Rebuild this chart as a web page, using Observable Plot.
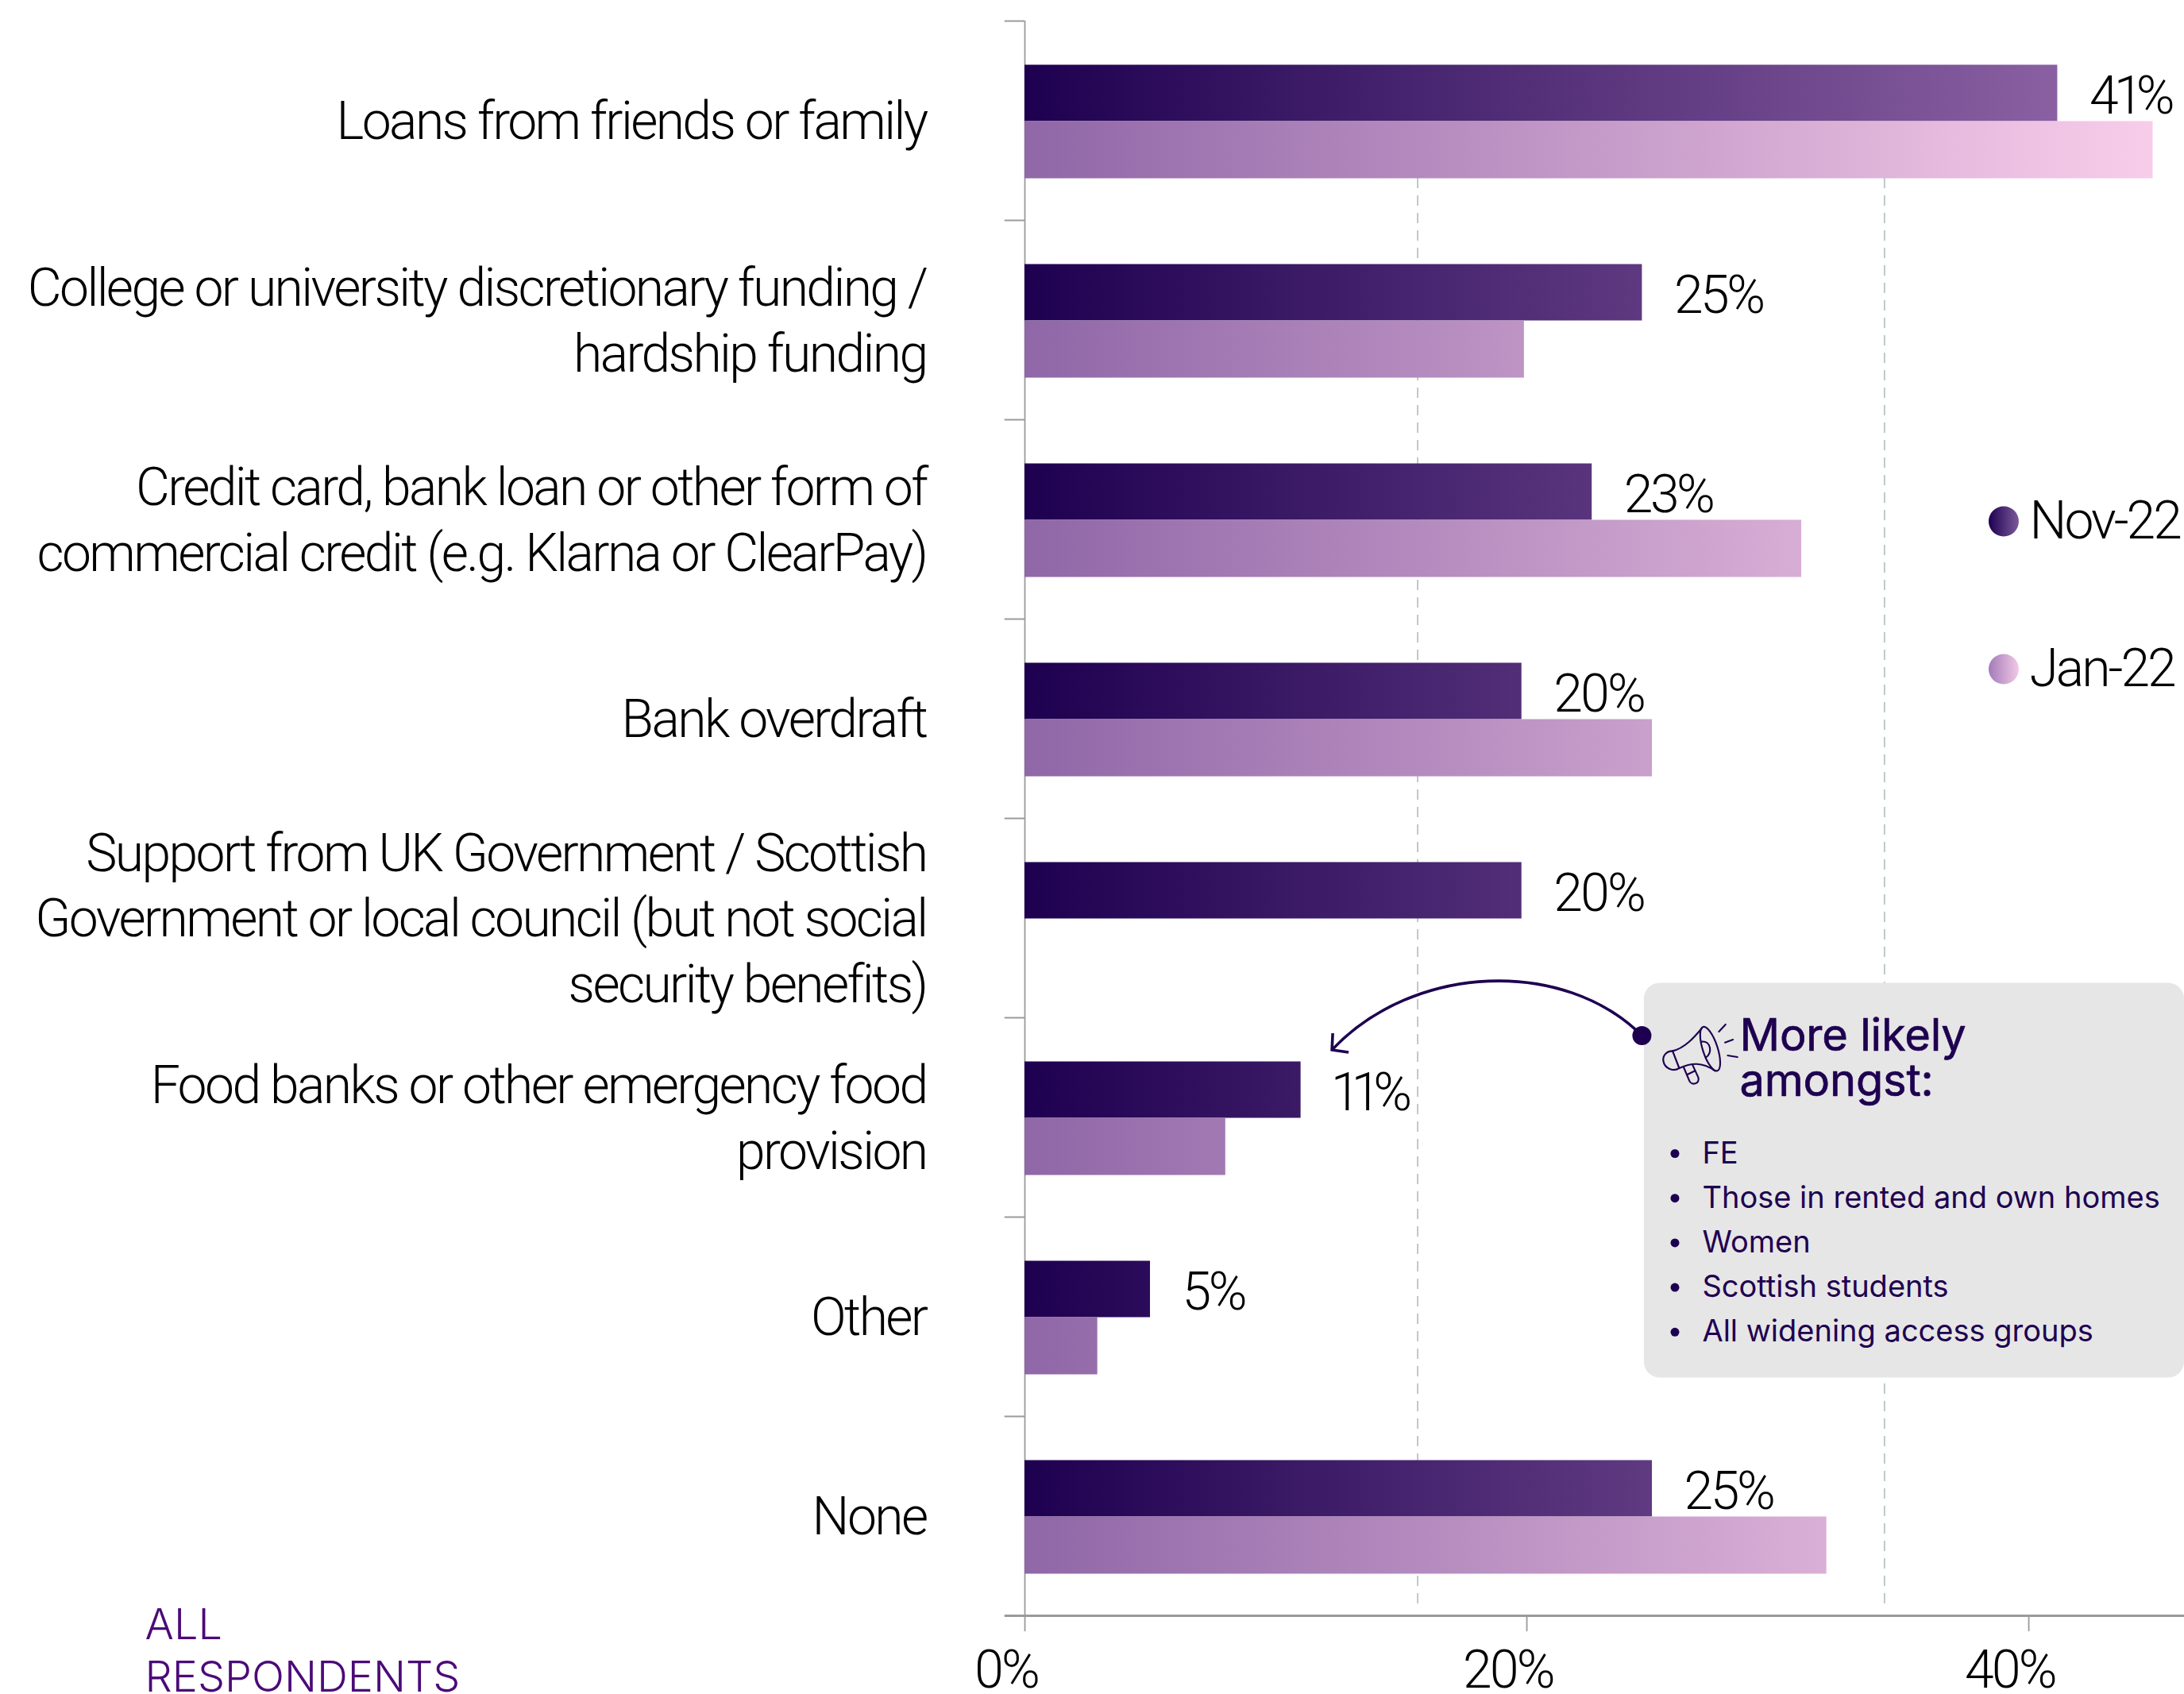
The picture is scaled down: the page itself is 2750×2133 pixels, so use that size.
<!DOCTYPE html>
<html><head><meta charset="utf-8">
<script src="https://cdn.jsdelivr.net/npm/d3@7"></script>
<script src="https://cdn.jsdelivr.net/npm/@observablehq/plot@0.6"></script>
<style>html,body{margin:0;padding:0;background:#fff}svg{display:block}
.tight text{letter-spacing:-3.4px;font-variant-numeric:proportional-nums}
.cats text{letter-spacing:-2.6px}
.legend text{letter-spacing:-3px}
.head text{letter-spacing:-.2px}
</style>
</head><body><div id="chart"></div>
<script>
const categories = ["Loans from friends or family","College or university discretionary funding /\nhardship funding","Credit card, bank loan or other form of\ncommercial credit (e.g. Klarna or ClearPay)","Bank overdraft","Support from UK Government / Scottish\nGovernment or local council (but not social\nsecurity benefits)","Food banks or other emergency food\nprovision","Other","None"];
const nov22 = [41.15,24.6,22.6,19.8,19.8,11.0,5.0,25.0];
const jan22 = [44.95,19.9,30.95,25.0,null,8.0,2.9,31.95];
const xTicks = [0,20,40];
const dashedAt = [15.65,34.25];
const calloutTitle = "More likely\namongst:";
const calloutItems = ["FE","Those in rented and own homes","Women","Scottish students","All widening access groups"];
const footnote = "ALL\nRESPONDENTS";
const legendNames = ["Nov-22","Jan-22"];

const INK="#1e0050", GREY="#9a9a9a", THIN="Roboto, 'Liberation Sans', sans-serif", FONT="Inter, 'Liberation Sans', sans-serif";
const foodRow = categories[5];
const novData = categories.map((c,i)=>({c,v:nov22[i]}));
const janData = categories.map((c,i)=>({c,v:jan22[i]})).filter(d=>d.v!=null);

function defs(index,{x}){
  const ns="http://www.w3.org/2000/svg";
  const g=document.createElementNS(ns,"defs");
  const stopsFor=(id,a,b,user)=>{
    const lg=document.createElementNS(ns,"linearGradient");
    lg.setAttribute("id",id);
    if(user){lg.setAttribute("gradientUnits","userSpaceOnUse");
      lg.setAttribute("x1",x(0));lg.setAttribute("x2",x(45));lg.setAttribute("y1",0);lg.setAttribute("y2",0);}
    [[0,a],[1,b]].forEach(([o,c])=>{const s=document.createElementNS(ns,"stop");s.setAttribute("offset",o);s.setAttribute("stop-color",c);lg.appendChild(s);});
    g.appendChild(lg);
  };
  stopsFor("gNov","#1e0050","#9469a9",true);
  stopsFor("gJan","#9067a7","#f8cdea",true);
  stopsFor("dNov","#1e0050","#7c5a9c",false);
  stopsFor("dJan","#a37bb8","#f2c8e6",false);
  return g;
}
function annotation(index,{x,y},ch,dim){
  const ns="http://www.w3.org/2000/svg";
  const g=document.createElementNS(ns,"g");
  const top=y(foodRow);
  const add=(tag,attrs)=>{const e=document.createElementNS(ns,tag);for(const k in attrs)e.setAttribute(k,attrs[k]);g.appendChild(e);return e;};
  const sx=x(24.6), tx=x(12.25);
  add("path",{d:`M${sx},${top+23} C${x(21.5)},${top-75} ${x(15.5)},${top-68} ${tx},${top+41}`,fill:"none",stroke:INK,"stroke-width":3.6});
  add("path",{d:`M${tx+1},${top+20} L${tx},${top+41} L${tx+21},${top+44}`,fill:"none",stroke:INK,"stroke-width":3.6});
  add("circle",{cx:sx,cy:top+23,r:12,fill:INK});
  const m=add("g",{transform:`translate(${x(24.98)},${top-11}) scale(0.3333)`,fill:"none",stroke:INK,"stroke-width":6.5,"stroke-linecap":"round","stroke-linejoin":"round"});
  m.innerHTML=`<path d="M80,160 C125,150 160,110 190,75"/>
  <ellipse cx="222" cy="152" rx="28" ry="87" transform="rotate(-18 222 152)"/>
  <path d="M105,225 C150,205 190,200 240,235"/>
  <path d="M80,160 C55,160 42,180 45,198 C50,225 80,240 105,225 L80,160Z"/>
  <path d="M122,222 L143,272 C150,292 185,285 177,260 L155,212"/><path d="M134,250 L165,235"/>
  <path d="M190,125 C225,120 232,170 205,185"/>
  <path d="M255,87 L280,60"/><path d="M278,128 L308,117"/><path d="M288,177 L325,183"/>`;
  return g;
}
const plot = Plot.plot({
  width:2750,height:2133,marginLeft:1290,marginRight:0,marginTop:26,marginBottom:99,
  style:{fontFamily:FONT,background:"#fff"},
  x:{domain:[0,46.2],axis:null},
  y:{domain:categories,axis:null,padding:0},
  marks:[
    defs,
    Plot.ruleX(dashedAt,{stroke:"#b9c4c4",strokeWidth:1.8,strokeDasharray:"13 9",insetTop:198,insetBottom:14}),
    Plot.ruleX([0],{stroke:GREY,strokeWidth:1.8,insetBottom:-20}),
    Plot.ruleY(categories,{y:d=>d,x1:-0.8,x2:0,dy:-125.5,stroke:GREY,strokeWidth:2}),
    Plot.ruleY([categories[7]],{y:d=>d,x1:-0.8,x2:46.2,dy:125.5,stroke:GREY,strokeWidth:3}),
    Plot.axisX({ticks:xTicks.slice(1),tickSize:20,tickFormat:()=>"",stroke:GREY,strokeWidth:1.8,label:null}),
    Plot.axisX({ticks:xTicks,tickSize:0,tickPadding:44,dx:-24,tickFormat:d=>`${d}%`,fontSize:66,fontWeight:300,fontFamily:THIN,fill:"#000",label:null,className:"tight"}),
    Plot.barX(novData,{y:"c",x:"v",fill:"url(#gNov)",insetTop:55.5,insetBottom:124.5}),
    Plot.barX(janData,{y:"c",x:"v",fill:"url(#gJan)",insetTop:126.5,insetBottom:52.5}),
    Plot.text(categories,{y:d=>d,x:0,text:d=>d,dx:-124,textAnchor:"end",fontSize:66,fontWeight:300,fontFamily:THIN,fill:"#000",lineHeight:1.25,className:"cats",dy:-3}),
    Plot.text(novData,{y:"c",x:"v",text:d=>`${Math.round(d.v)}%`,dx:40,dy:-30,textAnchor:"start",fontSize:66,fontWeight:300,fontFamily:THIN,fill:"#000",className:"tight"}),
    Plot.dot([legendNames[0]],{x:39,y:()=>categories[2],dy:2.5,r:19,fill:"url(#dNov)"}),
    Plot.dot([legendNames[1]],{x:39,y:()=>categories[3],dy:-62.5,r:19,fill:"url(#dJan)"}),
    Plot.text([legendNames[0]],{x:40.03,y:()=>categories[2],dy:2.5,text:d=>d,textAnchor:"start",fontSize:66,fontWeight:300,fontFamily:THIN,fill:"#000",className:"legend"}),
    Plot.text([legendNames[1]],{x:40.03,y:()=>categories[3],dy:-62.5,text:d=>d,textAnchor:"start",fontSize:66,fontWeight:300,fontFamily:THIN,fill:"#000",className:"legend"}),
    Plot.barX([foodRow],{y:d=>d,x1:24.68,x2:46.2,fill:"#e6e6e6",rx:20,insetTop:-43.5,insetBottom:-202.6}),
    annotation,
    Plot.text([calloutTitle],{x:28.48,y:()=>foodRow,dy:-74,text:d=>d,textAnchor:"start",fontSize:56,fontWeight:400,fill:INK,stroke:INK,strokeWidth:0.7,lineHeight:1.02,className:"head"}),
    ...calloutItems.map((t,i)=>Plot.dot([t],{x:25.9,y:()=>foodRow,dy:45.5+56.2*i,r:5.5,fill:INK})),
    ...calloutItems.map((t,i)=>Plot.text([t],{x:26.99,y:()=>foodRow,dy:45.5+56.2*i,text:d=>d,textAnchor:"start",fontSize:38,fontWeight:400,fill:INK})),
    Plot.text([footnote],{x:-35.06,y:()=>categories[7],dy:167,text:d=>d,textAnchor:"start",fontSize:54,fontWeight:300,fill:"#4b0a78",lineHeight:1.22})
  ]
});
document.getElementById("chart").appendChild(plot);
</script></body></html>
